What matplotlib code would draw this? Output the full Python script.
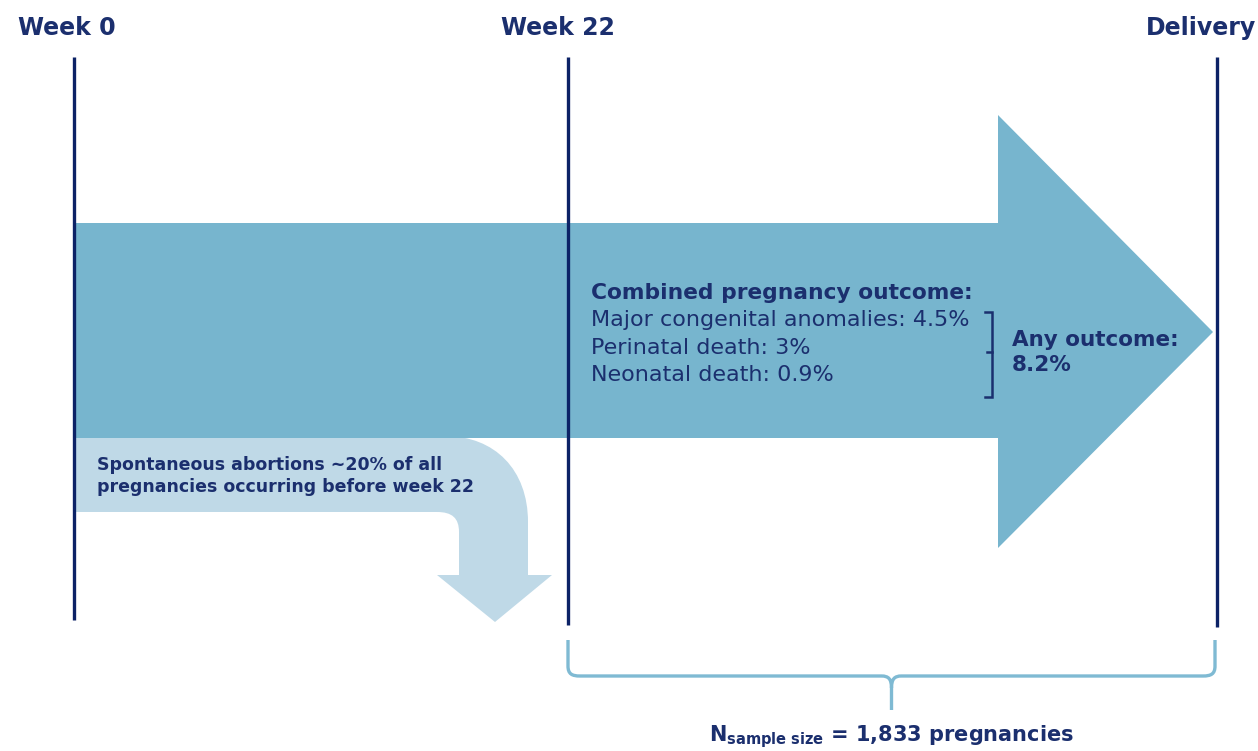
import matplotlib
matplotlib.use("Agg")
import matplotlib.pyplot as plt
from matplotlib.patches import Polygon, PathPatch
from matplotlib.path import Path

# --- data -------------------------------------------------------------
TIMEPOINTS = ["Week 0", "Week 22", "Delivery"]
OUTCOMES = ["Major congenital anomalies", "Perinatal death", "Neonatal death"]
OUTCOME_PCT = [4.5, 3, 0.9]
ANY_OUTCOME_PCT = 8.2
ABORTION_PCT = 20
N_PREGNANCIES = 1833

# --- layout (pixel coords, y down) ------------------------------------
W, H = 1258, 751
LINE_X = [74, 568, 1217]
LINE_Y0 = 57
LINE_Y1 = [620, 625, 627]
LABEL_X = [67, 558, 1256]
LABEL_HA = ["center", "center", "right"]

NAVY = "#0c2266"
TEXT = "#1b2f6e"
MAIN_BLUE = "#77b5ce"
LIGHT_BLUE = "#bfd9e7"
BRACE_BLUE = "#7fbad3"

fig = plt.figure(figsize=(W / 100, H / 100), dpi=100)
ax = fig.add_axes([0, 0, 1, 1])
ax.set_xlim(0, W)
ax.set_ylim(H, 0)
ax.axis("off")

# light curved arrow (spontaneous abortions)
C = Path.CURVE4
verts = [(74, 436), (445, 436),
         (495, 436), (528, 470), (528, 522),
         (528, 575), (552, 575), (495, 622), (437, 575), (459, 575),
         (459, 532),
         (459, 518), (452, 512), (437, 512),
         (74, 512), (74, 436)]
codes = [Path.MOVETO, Path.LINETO,
         C, C, C,
         Path.LINETO, Path.LINETO, Path.LINETO, Path.LINETO, Path.LINETO,
         Path.LINETO,
         C, C, C,
         Path.LINETO, Path.CLOSEPOLY]
ax.add_patch(PathPatch(Path(verts, codes), fc=LIGHT_BLUE, ec="none", zorder=1))

# main arrow
main = [(74, 223), (998, 223), (998, 115), (1213, 332), (998, 548),
        (998, 438), (74, 438)]
ax.add_patch(Polygon(main, closed=True, fc=MAIN_BLUE, ec="none", zorder=2))

# timeline verticals + labels
for x, y1, lx, ha, lab in zip(LINE_X, LINE_Y1, LABEL_X, LABEL_HA, TIMEPOINTS):
    ax.plot([x, x], [LINE_Y0, y1], color=NAVY, lw=2.4, zorder=3,
            solid_capstyle="butt")
    ax.text(lx, 28, lab, ha=ha, va="center", fontsize=17,
            fontweight="bold", color=TEXT)

# spontaneous abortions text
ax.text(97, 465, f"Spontaneous abortions ~{ABORTION_PCT}% of all",
        fontsize=12.5, fontweight="bold", color=TEXT, va="center", zorder=4)
ax.text(97, 487, "pregnancies occurring before week 22",
        fontsize=12.5, fontweight="bold", color=TEXT, va="center", zorder=4)

# combined outcome block
ax.text(591, 293, "Combined pregnancy outcome:", fontsize=15.7,
        fontweight="bold", color=TEXT, va="center", zorder=4)
for i, (name, pct) in enumerate(zip(OUTCOMES, OUTCOME_PCT)):
    ax.text(591, 320 + 27.5 * i, f"{name}: {pct:g}%", fontsize=16,
            color=TEXT, va="center", zorder=4)

# small bracket
ax.plot([985, 992, 992, 985], [312, 312, 397, 397], color=TEXT, lw=1.8,
        zorder=4, solid_joinstyle="miter")
ax.plot([987, 992], [352, 352], color=TEXT, lw=1.8, zorder=4)

ax.text(1012, 340, "Any outcome:", fontsize=15.5, fontweight="bold",
        color=TEXT, va="center", zorder=4)
ax.text(1012, 365, f"{ANY_OUTCOME_PCT:g}%", fontsize=15.5, fontweight="bold",
        color=TEXT, va="center", zorder=4)

# bottom brace under Week 22 .. Delivery
xl, xr = LINE_X[1], 1215
xm = (xl + xr) / 2
yb, yh, yd = 640, 676, 710
bv = [(xl, yb), (xl, yh - 10),
      (xl, yh - 2), (xl + 4, yh), (xl + 12, yh),
      (xm - 10, yh),
      (xm - 3, yh), (xm, yh + 3), (xm, yh + 12),
      (xm, yd),
      (xm, yh + 12),
      (xm, yh + 3), (xm + 3, yh), (xm + 10, yh),
      (xr - 12, yh),
      (xr - 4, yh), (xr, yh - 2), (xr, yh - 10),
      (xr, yb)]
bc = [Path.MOVETO, Path.LINETO,
      C, C, C,
      Path.LINETO,
      C, C, C,
      Path.LINETO,
      Path.MOVETO,
      C, C, C,
      Path.LINETO,
      C, C, C,
      Path.LINETO]
ax.add_patch(PathPatch(Path(bv, bc), fc="none", ec=BRACE_BLUE, lw=2.4,
                       zorder=3))

ax.text(xm, 737,
        r"$\mathbf{N}_{\mathbf{sample\ size}}$" + f" = {N_PREGNANCIES:,} pregnancies",
        ha="center", va="center", fontsize=15, fontweight="bold", color=TEXT)

fig.savefig("out.png", dpi=100)
